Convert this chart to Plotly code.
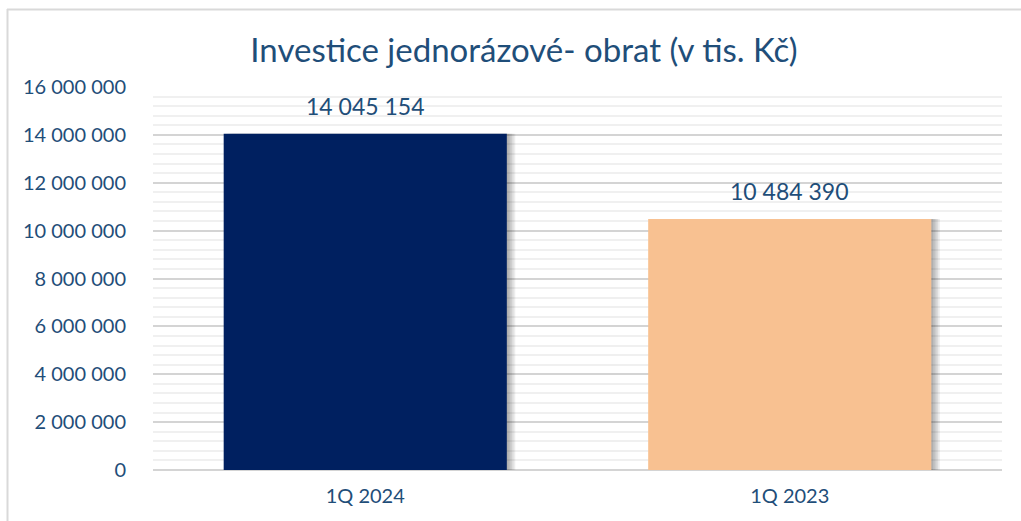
import plotly.graph_objects as go

categories = ["1Q 2024", "1Q 2023"]
values = [14045154, 10484390]
bar_colors = ["#002060", "#F8C191"]
title_text = "Investice jednorázové- obrat (v tis. Kč)"
tick_vals = [0, 2000000, 4000000, 6000000, 8000000, 10000000, 12000000, 14000000, 16000000]

FONT = "Lato"
TXT = "#1F4E79"

fig = go.Figure()

# soft shadow to the right of the bars
shadow_steps = [0.004, 0.008, 0.012, 0.016, 0.020]
for s in shadow_steps:
    fig.add_trace(go.Bar(
        x=categories, y=values, width=0.667, offset=-0.3335 + s,
        marker=dict(color="rgba(0,0,0,0.07)", line=dict(width=0)),
        hoverinfo="skip", showlegend=False,
    ))

fig.add_trace(go.Bar(
    x=categories, y=values, width=0.667, offset=-0.3335,
    marker=dict(color=bar_colors, line=dict(width=0)),
    showlegend=False,
))

# value labels above bars
for c, v in zip(categories, values):
    fig.add_annotation(
        x=c, y=v, text=f"{v:,}".replace(",", " "), showarrow=False,
        xanchor="center", yanchor="bottom", yshift=12,
        font=dict(family=FONT, size=23, color=TXT),
    )

W, H = 1021, 521
ml, mr, mt, mb = 153, 19, 87, 51
pw, ph = W - ml - mr, H - mt - mb

def px_x(p):
    return (p - ml) / pw

def px_y(p):
    return (H - mb - p) / ph

fig.update_layout(
    width=W, height=H,
    margin=dict(l=ml, r=mr, t=mt, b=mb),
    paper_bgcolor="white", plot_bgcolor="white",
    barmode="overlay",
    separators=". ",
    title=dict(text=title_text, x=524 / W, xanchor="center", y=1 - 50 / H, yanchor="middle",
               font=dict(family=FONT, size=33, color=TXT)),
    font=dict(family=FONT, color=TXT),
    shapes=[
        dict(type="line", xref="paper", yref="paper", x0=px_x(7), x1=px_x(W + 5), y0=px_y(9.5), y1=px_y(9.5),
             line=dict(color="#D9D9D9", width=2)),
        dict(type="line", xref="paper", yref="paper", x0=px_x(7.5), x1=px_x(7.5), y0=px_y(9), y1=px_y(H + 5),
             line=dict(color="#D9D9D9", width=2)),
    ],
)

fig.update_xaxes(
    showgrid=False, showline=False, zeroline=False,
    tickfont=dict(family=FONT, size=20, color=TXT),
    ticks="outside", ticklen=8, tickcolor="rgba(0,0,0,0)",
)

fig.update_yaxes(
    range=[0, 16000000], tickvals=tick_vals, tickformat=",d",
    showgrid=True, gridcolor="#D4D4D4", gridwidth=2,
    minor=dict(dtick=400000, showgrid=True, gridcolor="#F0F0F0", gridwidth=2),
    zeroline=True, zerolinecolor="#D4D4D4", zerolinewidth=2,
    showline=False,
    tickfont=dict(family=FONT, size=20, color=TXT),
    ticks="outside", ticklen=22, tickcolor="rgba(0,0,0,0)",
)

fig.write_html("out.html", config={"displayModeBar": False},
               post_script="document.body.style.margin='0';document.body.style.padding='0';")
